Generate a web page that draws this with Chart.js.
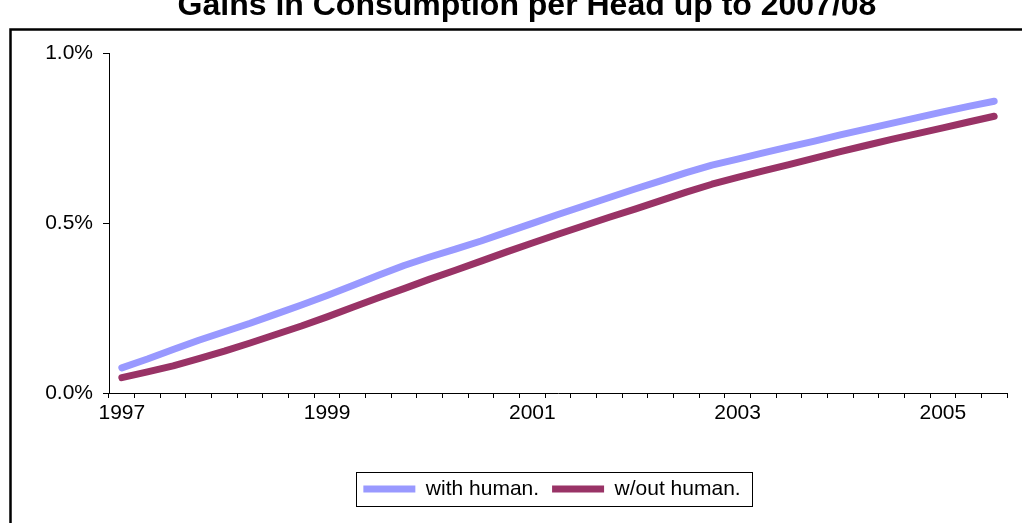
<!DOCTYPE html>
<html>
<head>
<meta charset="utf-8">
<script src="https://cdn.jsdelivr.net/npm/chart.js@4"></script>
<style>
  html, body { margin: 0; padding: 0; background: #fff; overflow: hidden; }
  canvas { display: block; }
</style>
</head>
<body>
<canvas id="chart" width="1022" height="523"></canvas>
<script>
// Chart title
const chartTitle = 'Gains in Consumption per Head up to 2007/08';

// Quarterly categories
const quarters = [
  '1997Q1','1997Q2','1997Q3','1997Q4',
  '1998Q1','1998Q2','1998Q3','1998Q4',
  '1999Q1','1999Q2','1999Q3','1999Q4',
  '2000Q1','2000Q2','2000Q3','2000Q4',
  '2001Q1','2001Q2','2001Q3','2001Q4',
  '2002Q1','2002Q2','2002Q3','2002Q4',
  '2003Q1','2003Q2','2003Q3','2003Q4',
  '2004Q1','2004Q2','2004Q3','2004Q4',
  '2005Q1','2005Q2','2005Q3'
];

// Years labelled on the horizontal axis
const yearLabels = ['1997', '1999', '2001', '2003', '2005'];

// Values on the vertical axis (percent)
const yTickValues = [0, 0.5, 1.0];

// Series names
const seriesNames = ['with human.', 'w/out human.'];

// Gain in consumption per head (%), with human capital effect
const withHuman = [
  0.074, 0.100, 0.128, 0.155, 0.180, 0.205, 0.232, 0.259,
  0.287, 0.316, 0.346, 0.375, 0.400, 0.423, 0.447, 0.473,
  0.499, 0.525, 0.550, 0.575, 0.600, 0.624, 0.648, 0.670,
  0.688, 0.706, 0.724, 0.741, 0.759, 0.776, 0.793, 0.810,
  0.827, 0.843, 0.858
];

// Gain in consumption per head (%), without human capital effect
const withoutHuman = [
  0.045, 0.062, 0.080, 0.101, 0.123, 0.147, 0.172, 0.197,
  0.224, 0.252, 0.280, 0.307, 0.335, 0.361, 0.388, 0.415,
  0.441, 0.467, 0.492, 0.517, 0.541, 0.566, 0.591, 0.614,
  0.634, 0.653, 0.672, 0.691, 0.710, 0.728, 0.746, 0.763,
  0.780, 0.797, 0.814
];

const FONT = '"Liberation Sans", Arial, sans-serif';
Chart.defaults.font.family = FONT;
Chart.defaults.font.size = 21;
Chart.defaults.color = '#000';

// Outer frame of the chart object, drawn behind everything
const framePlugin = {
  id: 'frame',
  beforeDraw(chart) {
    const ctx = chart.ctx;
    ctx.save();
    ctx.fillStyle = '#fff';
    ctx.fillRect(0, 0, chart.width, chart.height);
    ctx.strokeStyle = '#000';
    ctx.lineWidth = 2.5;
    ctx.strokeRect(10.5, 29.5, chart.width + 20, chart.height + 20);
    ctx.restore();
  }
};

// Title text, partly running off the top edge
const titlePlugin = {
  id: 'topTitle',
  afterDraw(chart) {
    const ctx = chart.ctx;
    ctx.save();
    ctx.font = 'bold 32px ' + FONT;
    ctx.fillStyle = '#000';
    ctx.textAlign = 'center';
    ctx.textBaseline = 'alphabetic';
    ctx.fillText(chartTitle, 527, 15);
    ctx.restore();
  }
};

// Nudges the legend row a little to the left of the plot-area centre,
// and draws a box around the legend entries
const legendBoxPlugin = {
  id: 'legendBox',
  afterLayout(chart) {
    const legend = chart.legend;
    if (!legend) return;
    legend.left -= 6;
    legend.right -= 6;
  },
  afterDraw(chart) {
    const boxes = chart.legend && chart.legend.legendHitBoxes;
    if (!boxes || !boxes.length) return;
    const first = boxes[0];
    const last = boxes[boxes.length - 1];
    const left = Math.round(first.left - 7.5) + 0.5;
    const right = Math.round(last.left + last.width + 11) + 0.5;
    const top = Math.round(first.top - 6.5) + 0.5;
    const bottom = Math.round(first.top + first.height + 6) + 0.5;
    const ctx = chart.ctx;
    ctx.save();
    ctx.strokeStyle = '#000';
    ctx.lineWidth = 1;
    ctx.strokeRect(left, top, right - left, bottom - top);
    ctx.restore();
  }
};

new Chart(document.getElementById('chart'), {
  type: 'line',
  data: {
    labels: quarters,
    datasets: [
      {
        label: seriesNames[0],
        data: withHuman,
        borderColor: '#9999FF',
        backgroundColor: '#9999FF',
        borderWidth: 7,
        borderCapStyle: 'round',
        borderJoinStyle: 'round',
        pointRadius: 0,
        pointHoverRadius: 0,
        tension: 0,
        fill: false
      },
      {
        label: seriesNames[1],
        data: withoutHuman,
        borderColor: '#993366',
        backgroundColor: '#993366',
        borderWidth: 7,
        borderCapStyle: 'round',
        borderJoinStyle: 'round',
        pointRadius: 0,
        pointHoverRadius: 0,
        tension: 0,
        fill: false
      }
    ]
  },
  options: {
    responsive: false,
    animation: false,
    events: [],
    layout: {
      padding: { left: 20, right: 15, top: 53, bottom: 13.5 }
    },
    plugins: {
      title: { display: false },
      tooltip: { enabled: false },
      legend: {
        display: true,
        position: 'bottom',
        fullSize: false,
        labels: {
          usePointStyle: true,
          pointStyle: 'line',
          pointStyleWidth: 52,
          padding: 13,
          color: '#000',
          font: { size: 21, family: FONT }
        }
      }
    },
    scales: {
      x: {
        type: 'category',
        offset: true,
        afterFit(scale) { scale.height = 72.5; },
        grid: {
          offset: true,
          drawOnChartArea: false,
          drawTicks: true,
          tickLength: 5,
          tickColor: '#000',
          tickWidth: 1
        },
        border: { display: true, color: '#000', width: 1 },
        ticks: {
          autoSkip: false,
          maxRotation: 0,
          minRotation: 0,
          padding: 3,
          color: '#000',
          font: { size: 21, family: FONT },
          callback(value, index) {
            const q = quarters[index];
            const year = q.slice(0, 4);
            return q.endsWith('Q1') && yearLabels.includes(year) ? year : '';
          }
        }
      },
      y: {
        min: 0,
        max: 1.0,
        afterFit(scale) { scale.width = 89; },
        afterBuildTicks(scale) {
          scale.ticks = yTickValues.map(v => ({ value: v }));
        },
        grid: {
          drawOnChartArea: false,
          drawTicks: true,
          tickLength: 6,
          tickColor: '#000',
          tickWidth: 1
        },
        border: { display: true, color: '#000', width: 1 },
        ticks: {
          padding: 10,
          color: '#000',
          font: { size: 21, family: FONT },
          callback(value) { return value.toFixed(1) + '%'; }
        }
      }
    }
  },
  plugins: [framePlugin, titlePlugin, legendBoxPlugin]
});
</script>
</body>
</html>
